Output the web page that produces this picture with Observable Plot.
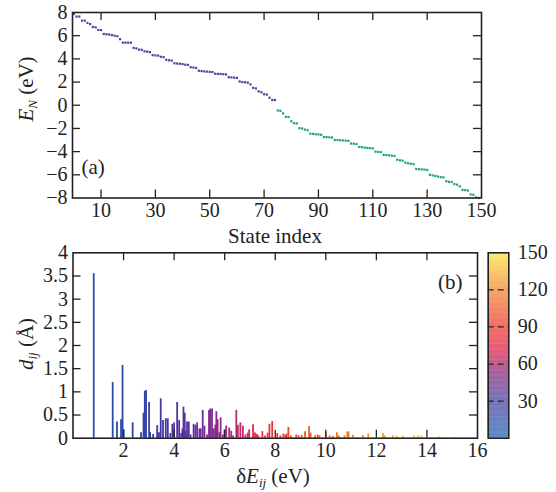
<!DOCTYPE html>
<html><head><meta charset="utf-8">
<script src="https://cdn.jsdelivr.net/npm/d3@7"></script>
<script src="https://cdn.jsdelivr.net/npm/@observablehq/plot@0.6"></script>
<style>
body{margin:0;background:#fff;}
#wrap{position:relative;width:556px;height:492px;font-family:"Liberation Serif","Times New Roman",Tinos,"DejaVu Serif",serif;color:#222;overflow:hidden;}
.pane{position:absolute;}
.lbl{position:absolute;font-size:21px;line-height:1;white-space:nowrap;transform:translate(-50%,-50%);}
.rot{transform:translate(-50%,-50%) rotate(-90deg);}
.lbl sub{font-size:13px;vertical-align:-4px;}
</style></head><body><div id="wrap"></div>
<script>
// ---------- Panel (a): state energies ----------
const stateEnergy = [
 7.87, 7.65, 7.65, 7.3, 7.3, 7.1, 7.0, 6.75, 6.72, 6.5,
 6.48, 6.15, 6.12, 6.1, 6.05, 6.0, 5.95, 5.7, 5.4, 5.4,
 5.4, 5.4, 4.95, 4.9, 4.8, 4.78, 4.65, 4.62, 4.58, 4.32,
 4.3, 4.28, 4.18, 4.15, 3.92, 3.88, 3.85, 3.62, 3.6, 3.58,
 3.55, 3.5, 3.48, 3.28, 3.25, 3.22, 2.98, 2.95, 2.92, 2.9,
 2.88, 2.86, 2.72, 2.7, 2.7, 2.68, 2.66, 2.42, 2.4, 2.38,
 2.36, 2.05, 2.0, 1.98, 1.95, 1.8, 1.5, 1.45, 1.2, 1.12,
 0.95, 0.92, 0.65, 0.45, 0.45, -0.45, -0.48, -0.7, -1.0, -1.02,
 -1.38, -1.55, -1.57, -1.98, -2.0, -2.1, -2.15, -2.45, -2.47, -2.5,
 -2.52, -2.55, -2.75, -2.75, -2.77, -2.78, -3.0, -3.0, -3.02, -3.03,
 -3.05, -3.07, -3.3, -3.32, -3.35, -3.6, -3.62, -3.65, -3.68, -3.7,
 -3.72, -4.0, -4.02, -4.05, -4.28, -4.3, -4.32, -4.35, -4.38, -4.7,
 -4.75, -4.78, -4.95, -5.0, -5.05, -5.08, -5.5, -5.52, -5.53, -5.55,
 -5.58, -6.0, -6.05, -6.1, -6.15, -6.2, -6.22, -6.55, -6.6, -6.62,
 -6.8, -6.85, -7.0, -7.3, -7.32, -7.35, -7.7, -7.72, -7.95, -8.0
];
const xTicksA = [10, 30, 50, 70, 90, 110, 130, 150];
const yTicksA = [-8, -6, -4, -2, 0, 2, 4, 6, 8];
const occupiedColor = "#5b3f9e";
const emptyColor = "#1fa37a";

// ---------- Panel (b): transition dipoles ----------
const barDE = [0.82,1.57,1.74,1.90,1.96,2.0,2.36,2.69,2.79,2.84,2.89,3.01,3.05,3.17,3.33,3.4,3.47,3.56,3.67,3.75,
 3.85,3.93,4.0,4.12,4.2,4.28,4.33,4.37,4.42,4.47,4.51,4.58,4.65,4.77,4.84,4.91,5.0,5.05,5.13,5.2,
 5.3,5.38,5.43,5.5,5.57,5.63,5.67,5.72,5.79,5.84,5.93,5.99,6.06,6.18,6.26,6.33,6.46,6.52,6.62,6.72,
 6.82,6.91,6.97,7.12,7.2,7.27,7.33,7.49,7.6,7.7,7.77,7.88,8.08,8.2,8.32,8.4,8.45,8.52,8.62,8.83,
 8.92,9.05,9.18,9.34,9.4,9.58,9.68,9.75,10.0,10.15,10.28,10.44,10.52,10.74,10.85,10.9,11.07,11.47,11.68,12.26,
 12.33,12.65,12.8,13.05,13.49,13.65,13.78,14.5,15.1];
const barD = [3.55,1.2,0.35,0.40,1.57,0.18,0.33,0.12,0.54,1.01,1.03,0.77,0.12,0.08,0.27,0.12,0.85,0.38,0.42,0.42,
 0.10,0.30,0.33,0.77,0.38,0.10,0.2,0.67,0.54,0.15,0.35,0.35,0.07,0.30,0.28,0.33,0.2,0.2,0.6,0.26,
 0.07,0.6,0.63,0.63,0.2,0.28,0.57,0.4,0.12,0.44,0.07,0.18,0.26,0.22,0.15,0.05,0.6,0.28,0.33,0.26,
 0.07,0.11,0.18,0.29,0.11,0.08,0.05,0.14,0.05,0.11,0.30,0.36,0.10,0.05,0.09,0.07,0.09,0.23,0.05,0.07,
 0.05,0.06,0.14,0.25,0.11,0.05,0.07,0.05,0.12,0.05,0.04,0.12,0.05,0.05,0.13,0.14,0.06,0.06,0.09,0.10,
 0.05,0.05,0.04,0.04,0.05,0.05,0.04,0.03,0.02];
const barC = [8,14,15,16,16,17,18,20,21,21,22,23,24,25,30,31,32,33,34,35,
 36,37,38,39,40,41,42,42,43,44,45,45,46,47,48,49,50,50,51,52,
 53,54,55,55,56,57,57,58,59,60,61,62,63,64,65,66,68,69,70,72,
 73,74,75,77,78,79,80,82,83,84,85,86,88,89,90,91,91,92,93,95,
 96,97,99,100,101,103,104,104,106,107,108,110,111,112,113,114,115,119,121,126,
 127,130,131,134,138,139,140,145,148];
const xTicksB = [2, 4, 6, 8, 10, 12, 14, 16];
const yTicksB = [0, 0.5, 1, 1.5, 2, 2.5, 3, 3.5, 4];
const cbTicks = [30, 60, 90, 120, 150];

// colour ramps (bars saturated, colour bar lighter)
const rampStops = [0, 30, 50, 65, 75, 90, 105, 120, 135, 150];
const barColors = ["#1f58b0","#3a3aa2","#6a2c98","#a42a7c","#d62a52","#ef3a30","#f26424","#f58c22","#f2b424","#f0d838"];
const cbColors  = ["#5a8cc8","#7a74b8","#a062a2","#d05c86","#ee5e72","#f26c66","#f48866","#f6a866","#f8c866","#f8ee70"];
const barRamp = d3.scaleLinear().domain(rampStops).range(barColors).interpolate(d3.interpolateRgb);
const cbRamp = d3.scaleLinear().domain(rampStops).range(cbColors).interpolate(d3.interpolateRgb);

const fmt = d => d < 0 ? "\u2212" + Math.abs(d) : String(d);
const FAM = "'Liberation Serif','Times New Roman',Tinos,'DejaVu Serif',serif";
const font = {fontFamily: FAM, fontSize: "20px", color: "#222", background: "transparent", overflow: "visible"};
const ink = "#222";
const TL = 8; // tick length

const wrap = document.getElementById("wrap");
function place(el, left, top) {
  const d = document.createElement("div");
  d.className = "pane"; d.style.left = left + "px"; d.style.top = top + "px";
  d.appendChild(el); wrap.appendChild(d);
}

// ----- panel (a) -----
const A = {w: 556, h: 245, ml: 72, mr: 75, mt: 12, mb: 47.5};
const pwA = A.w - A.ml - A.mr, phA = A.h - A.mt - A.mb;
const states = stateEnergy.map((E, i) => ({i, E}));
const plotA = Plot.plot({
  width: A.w, height: A.h, marginLeft: A.ml, marginRight: A.mr, marginTop: A.mt, marginBottom: A.mb,
  x: {domain: [-0.5, 150]},
  y: {domain: [-8, 8]},
  style: font,
  marks: [
    Plot.dot(states, {x: "i", y: "E", symbol: "square", r: 1.25, stroke: null,
      fill: d => d.E > 0 ? occupiedColor : emptyColor}),
    Plot.ruleX(xTicksA.slice(0, -1), {x: d => d, insetTop: phA - TL, stroke: ink, strokeWidth: 1.3}),
    Plot.ruleX(xTicksA.slice(0, -1), {x: d => d, insetBottom: phA - TL, stroke: ink, strokeWidth: 1.3}),
    Plot.ruleY(yTicksA.slice(1, -1), {y: d => d, insetRight: pwA - TL, stroke: ink, strokeWidth: 1.3}),
    Plot.ruleY(yTicksA.slice(1, -1), {y: d => d, insetLeft: pwA - TL, stroke: ink, strokeWidth: 1.3}),
    Plot.frame({stroke: ink, strokeWidth: 1.6}),
    Plot.axisX({ticks: xTicksA, tickSize: 0, tickPadding: 5, label: null, tickFormat: fmt, fontFamily: FAM}),
    Plot.axisY({ticks: yTicksA, tickSize: 0, tickPadding: 5, label: null, tickFormat: fmt, fontFamily: FAM}),
    Plot.text(["(a)"], {frameAnchor: "bottom-left", dx: 9, dy: -24, textAnchor: "start", fontSize: 21, fill: ink, fontFamily: FAM})
  ]
});
place(plotA, 0, 0);

// ----- panel (b) -----
const B = {w: 556, h: 252, ml: 72.5, mr: 79, mt: 12.3, mb: 54.3};
const pwB = B.w - B.ml - B.mr, phB = B.h - B.mt - B.mb;
const bars = barDE.map((x, k) => ({dE: x, d: barD[k], c: barC[k]}));
const plotB = Plot.plot({
  width: B.w, height: B.h, marginLeft: B.ml, marginRight: B.mr, marginTop: B.mt, marginBottom: B.mb,
  x: {domain: [0, 16]},
  y: {domain: [0, 4]},
  color: {type: "linear", domain: [0, 150], interpolate: t => barRamp(t * 150)},
  style: font,
  marks: [
    Plot.ruleX(bars, {x: "dE", y1: 0, y2: "d", stroke: "c", strokeWidth: 1.8}),
    Plot.ruleX(xTicksB.slice(0, -1), {x: d => d, insetTop: phB - TL, stroke: ink, strokeWidth: 1.3}),
    Plot.ruleX(xTicksB.slice(0, -1), {x: d => d, insetBottom: phB - TL, stroke: ink, strokeWidth: 1.3}),
    Plot.ruleY(yTicksB.slice(1, -1), {y: d => d, insetRight: pwB - TL, stroke: ink, strokeWidth: 1.3}),
    Plot.ruleY(yTicksB.slice(1, -1), {y: d => d, insetLeft: pwB - TL, stroke: ink, strokeWidth: 1.3}),
    Plot.frame({stroke: ink, strokeWidth: 1.6}),
    Plot.axisX({ticks: xTicksB, tickSize: 0, tickPadding: 5, label: null, tickFormat: fmt, fontFamily: FAM}),
    Plot.axisY({ticks: yTicksB, tickSize: 0, tickPadding: 5, label: null, tickFormat: fmt, fontFamily: FAM}),
    Plot.text(["(b)"], {frameAnchor: "top-right", dx: -15, dy: 21, textAnchor: "end", fontSize: 21, fill: ink, fontFamily: FAM})
  ]
});
place(plotB, 0, 240);

// ----- colour bar -----
const C = {w: 76, h: 252, ml: 7.7, mr: 47.7, mt: 12.3, mb: 54.3};
const cbSteps = d3.range(0, 150, 1);
const plotC = Plot.plot({
  width: C.w, height: C.h, marginLeft: C.ml, marginRight: C.mr, marginTop: C.mt, marginBottom: C.mb,
  x: {domain: [0, 1], axis: null},
  y: {domain: [0, 150], axis: null},
  color: {type: "linear", domain: [0, 150], interpolate: t => cbRamp(t * 150)},
  style: font,
  marks: [
    Plot.rect(cbSteps, {x1: 0, x2: 1, y1: d => d, y2: d => Math.min(150, d + 1.4), fill: d => d + 0.5}),
    Plot.ruleY(cbTicks.slice(0, -1), {y: d => d, stroke: ink, strokeWidth: 1.3, strokeDasharray: "6,4"}),
    Plot.frame({stroke: ink, strokeWidth: 1.6}),
    Plot.axisY({anchor: "right", ticks: cbTicks, tickSize: 0, tickPadding: 9, label: null, fontFamily: FAM})
  ]
});
place(plotC, 480, 240);

// ----- axis titles (real text with italics & subscripts) -----
function label(html, x, y, rotate) {
  const s = document.createElement("div");
  s.className = "lbl" + (rotate ? " rot" : "");
  s.style.left = x + "px"; s.style.top = y + "px";
  s.innerHTML = html; wrap.appendChild(s);
}
label("<i>E</i><sub><i>N</i></sub> (eV)", 27, 89, true);
label("State index", 275, 236, false);
label("<i>d</i><sub><i>ij</i></sub> (Å)", 27, 344, true);
label("δ<i>E</i><sub><i>ij</i></sub> (eV)", 273, 477, false);
</script>
</body></html>
